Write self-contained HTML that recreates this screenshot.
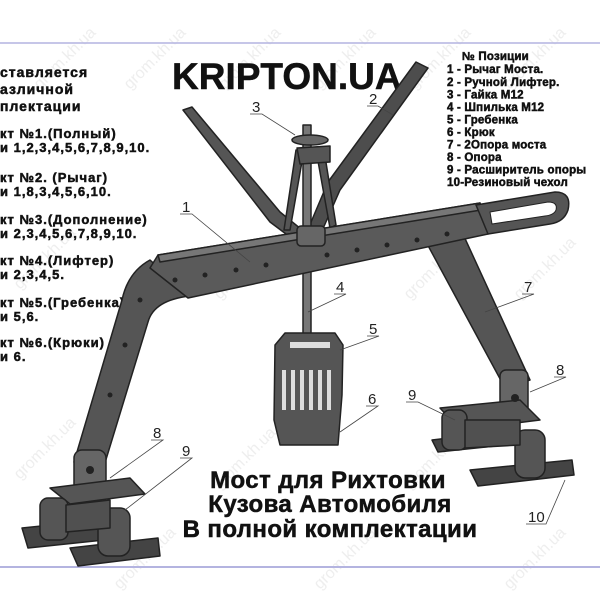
<!DOCTYPE html>
<html><head><meta charset="utf-8"><style>
html,body{margin:0;padding:0;background:#fff;}
body{width:600px;height:600px;overflow:hidden;position:relative;font-family:"Liberation Sans",sans-serif;}
svg{position:absolute;left:0;top:0;}
.t{font-family:"Liberation Sans",sans-serif;font-weight:bold;fill:#111;stroke:#111;stroke-width:0.5;}
.n{font-family:"Liberation Sans",sans-serif;font-size:15px;fill:#222;}
.wm{font-family:"Liberation Sans",sans-serif;font-size:16px;fill:#eeeeee;}
</style></head><body>
<svg width="600" height="600" viewBox="0 0 600 600">
<g>
<text class="wm" transform="translate(40,90) rotate(-45)">grom.kh.ua</text>
<text class="wm" transform="translate(130,90) rotate(-45)">grom.kh.ua</text>
<text class="wm" transform="translate(225,90) rotate(-45)">grom.kh.ua</text>
<text class="wm" transform="translate(320,90) rotate(-45)">grom.kh.ua</text>
<text class="wm" transform="translate(415,90) rotate(-45)">grom.kh.ua</text>
<text class="wm" transform="translate(510,90) rotate(-45)">grom.kh.ua</text>
<text class="wm" transform="translate(20,290) rotate(-45)">grom.kh.ua</text>
<text class="wm" transform="translate(220,300) rotate(-45)">grom.kh.ua</text>
<text class="wm" transform="translate(410,300) rotate(-45)">grom.kh.ua</text>
<text class="wm" transform="translate(520,300) rotate(-45)">grom.kh.ua</text>
<text class="wm" transform="translate(20,480) rotate(-45)">grom.kh.ua</text>
<text class="wm" transform="translate(220,490) rotate(-45)">grom.kh.ua</text>
<text class="wm" transform="translate(410,490) rotate(-45)">grom.kh.ua</text>
<text class="wm" transform="translate(120,590) rotate(-45)">grom.kh.ua</text>
<text class="wm" transform="translate(320,590) rotate(-45)">grom.kh.ua</text>
<text class="wm" transform="translate(510,590) rotate(-45)">grom.kh.ua</text>
</g>
<line x1="0" y1="43" x2="600" y2="43" stroke="#b4b4e0" stroke-width="1.5"/>
<line x1="0" y1="567" x2="600" y2="567" stroke="#b4b4e0" stroke-width="2"/>

<g class="t" font-size="14" letter-spacing="1">
<text x="0" y="77">ставляется</text>
<text x="0" y="94">азличной</text>
<text x="0" y="111">плектации</text>
</g>
<g class="t" font-size="13" letter-spacing="1">
<text x="0" y="138">кт №1.(Полный)</text>
<text x="0" y="152">и 1,2,3,4,5,6,7,8,9,10.</text>
<text x="0" y="182">кт №2. (Рычаг)</text>
<text x="0" y="196">и 1,8,3,4,5,6,10.</text>
<text x="0" y="224">кт №3.(Дополнение)</text>
<text x="0" y="238">и 2,3,4,5,6,7,8,9,10.</text>
<text x="0" y="265">кт №4.(Лифтер)</text>
<text x="0" y="279">и 2,3,4,5.</text>
<text x="0" y="307">кт №5.(Гребенка)</text>
<text x="0" y="321">и 5,6.</text>
<text x="0" y="347">кт №6.(Крюки)</text>
<text x="0" y="361">и 6.</text>
</g>
<text class="t" x="172" y="89" font-size="37" stroke-width="1">KRIPTON.UA</text>

<g class="t" font-size="11.5" letter-spacing="0.2" stroke-width="0.3">
<text x="462" y="60">№  Позиции</text>
<text x="447" y="73">1 - Рычаг Моста.</text>
<text x="447" y="86">2 - Ручной Лифтер.</text>
<text x="447" y="98.5">3 - Гайка М12</text>
<text x="447" y="111">4 - Шпилька М12</text>
<text x="447" y="123.5">5 - Гребенка</text>
<text x="447" y="136">6 - Крюк</text>
<text x="447" y="148.5">7 - 2Опора моста</text>
<text x="447" y="161">8 - Опора</text>
<text x="447" y="173.5">9 - Расширитель опоры</text>
<text x="447" y="186">10-Резиновый чехол</text>
</g>

<g stroke="#222" stroke-width="1.5" stroke-linejoin="round">
<polygon points="183,110 192,107 280,212 312,238 302,246 270,222" fill="#555"/>
<polygon points="416,62 428,68 340,190 318,240 306,234 328,182" fill="#4d4d4d"/>
<polygon points="296,150 304,150 290,230 284,230" fill="#555"/>
<polygon points="316,150 324,150 336,225 330,228" fill="#555"/>
<rect x="303" y="125" width="8" height="210" fill="#777"/>
<ellipse cx="310" cy="140" rx="18" ry="5" fill="#666"/>
<polygon points="297,148 330,146 330,162 300,164" fill="#555"/>
<polygon points="425,240 462,232 530,380 505,388" fill="#555"/>
<path d="M150,260 Q128,272 122,300 L74,462 L104,466 L148,322 Q154,300 190,296 Z" fill="#555"/>
<polygon points="158,255 480,203 488,234 188,298 150,268" fill="#5a5a5a"/>
<polygon points="158,255 480,203 481,210 160,262" fill="#777"/>
<path d="M476,205 L555,192 Q572,192 568,210 Q564,222 550,224 L488,234 Z" fill="#555"/>
<path d="M490,212 L548,202 Q558,202 556,210 Q554,215 545,216 L492,224 Z" fill="#fff" stroke-width="1"/>
<rect x="297" y="226" width="28" height="20" rx="4" fill="#666"/>
<path d="M275,345 L285,333 L335,333 L343,345 L342,395 L338,445 L280,445 L274,420 Z" fill="#555"/>
<g fill="#ddd" stroke="none">
<rect x="282" y="370" width="4" height="40"/><rect x="291" y="370" width="4" height="40"/>
<rect x="300" y="370" width="4" height="40"/><rect x="309" y="370" width="4" height="40"/>
<rect x="318" y="370" width="4" height="40"/><rect x="327" y="370" width="4" height="40"/>
<rect x="290" y="342" width="40" height="6"/>
</g>
<rect x="500" y="370" width="28" height="50" rx="6" fill="#666"/>
<polygon points="440,408 520,400 540,420 460,430" fill="#555"/>
<polygon points="432,440 500,432 505,445 438,452" fill="#444"/>
<polygon points="470,470 572,460 574,475 478,486" fill="#444"/>
<rect x="442" y="410" width="25" height="40" rx="8" fill="#555"/>
<rect x="515" y="430" width="30" height="48" rx="10" fill="#555"/>
<polygon points="465,420 520,420 520,445 465,448" fill="#505050"/>
<rect x="74" y="450" width="32" height="45" rx="8" fill="#666"/>
<polygon points="50,488 130,478 145,494 70,504" fill="#555"/>
<polygon points="22,528 100,520 104,540 28,548" fill="#444"/>
<polygon points="70,548 158,538 160,556 78,566" fill="#444"/>
<rect x="40" y="498" width="28" height="42" rx="8" fill="#555"/>
<rect x="98" y="508" width="32" height="48" rx="10" fill="#555"/>
<polygon points="66,505 110,500 110,528 66,532" fill="#505050"/>
</g>
<g fill="#222">
<circle cx="175" cy="280" r="2.5"/><circle cx="205" cy="275" r="2.5"/><circle cx="236" cy="270" r="2.5"/>
<circle cx="266" cy="265" r="2.5"/><circle cx="327" cy="255" r="2.5"/><circle cx="357" cy="250" r="2.5"/>
<circle cx="387" cy="245" r="2.5"/><circle cx="417" cy="240" r="2.5"/><circle cx="447" cy="234" r="2.5"/>
<circle cx="140" cy="300" r="2.5"/><circle cx="125" cy="345" r="2.5"/><circle cx="110" cy="395" r="2.5"/>
<circle cx="515" cy="398" r="4"/><circle cx="90" cy="470" r="4"/>
</g>

<g class="n">
<text x="252" y="112">3</text><text x="369" y="104">2</text><text x="182" y="212">1</text>
<text x="336" y="292">4</text><text x="369" y="334">5</text><text x="368" y="404">6</text>
<text x="524" y="292">7</text><text x="556" y="375">8</text><text x="408" y="400">9</text>
<text x="153" y="438">8</text><text x="182" y="456">9</text><text x="528" y="522">10</text>
</g>
<g stroke="#444" stroke-width="0.8" fill="none">
<path d="M250,114 H262 L295,135"/><path d="M367,106 H378 L393,115"/><path d="M180,214 H192 L250,262"/>
<path d="M334,294 H346 L308,312"/><path d="M367,336 H379 L340,350"/><path d="M366,406 H378 L340,432"/>
<path d="M522,294 H534 L485,312"/><path d="M554,377 H566 L530,392"/><path d="M406,402 H418 L455,420"/>
<path d="M151,440 H163 L110,478"/><path d="M180,458 H192 L125,510"/><path d="M526,524 H546 L565,480"/>
</g>

<g class="t" font-size="24" letter-spacing="0.4" stroke-width="0.8" text-anchor="middle">
<text x="328" y="488">Мост для Рихтовки</text>
<text x="330" y="512">Кузова Автомобиля</text>
<text x="330" y="537">В полной комплектации</text>
</g>
</svg>
</body></html>
